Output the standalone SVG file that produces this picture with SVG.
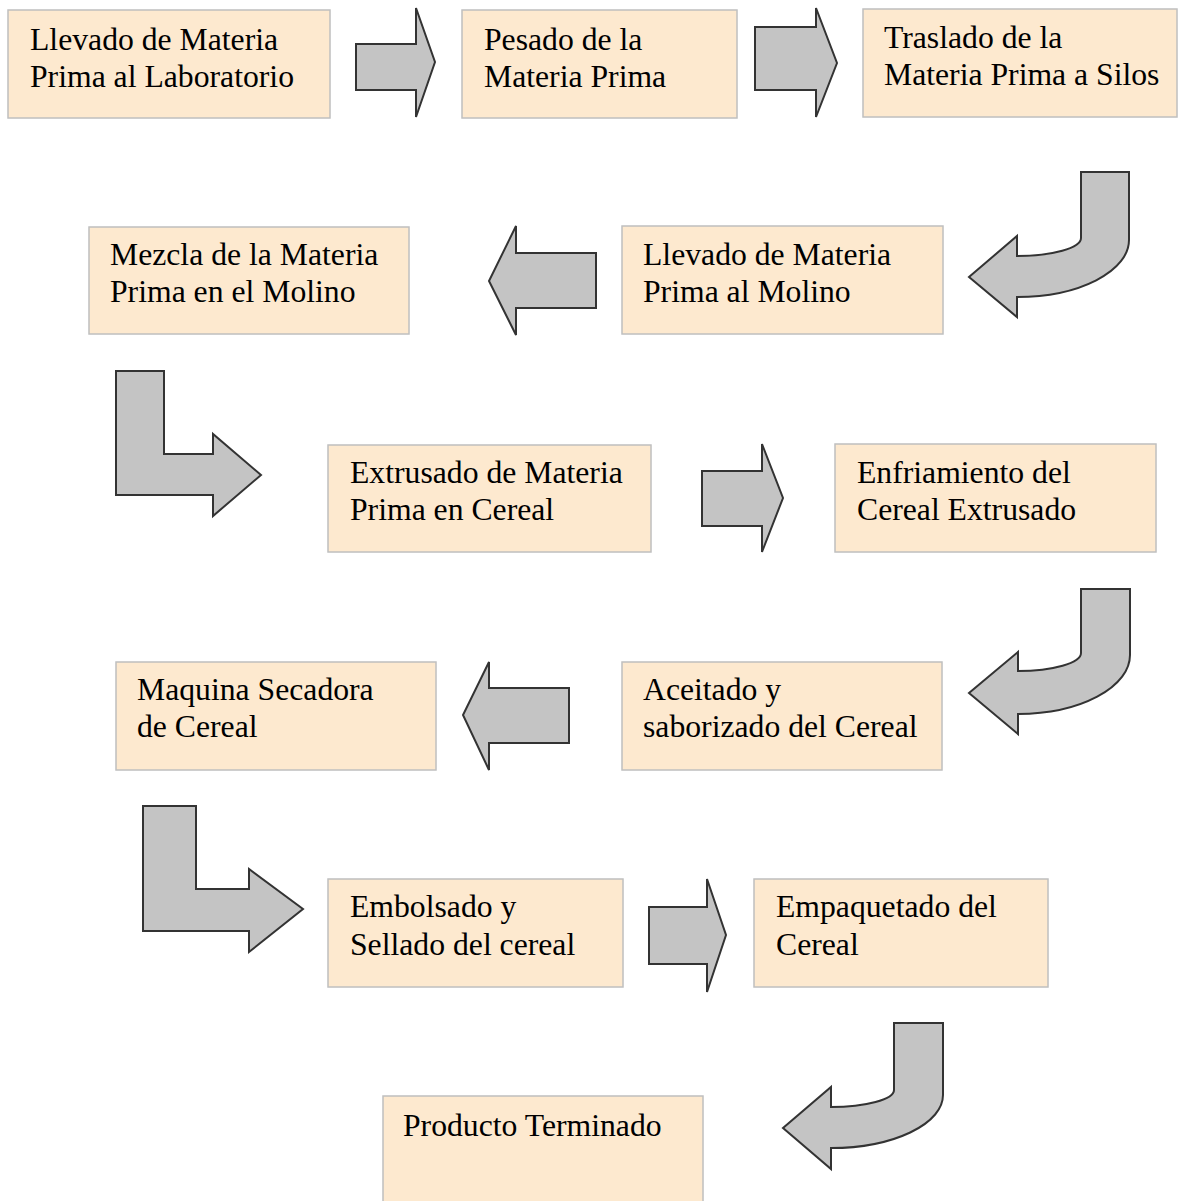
<svg xmlns="http://www.w3.org/2000/svg" width="1183" height="1201" viewBox="0 0 1183 1201">
<style>
.box{fill:#FDE9CF;stroke:#BFBFBF;stroke-width:1.5}
.lbl{font-family:"Liberation Serif","Times New Roman",serif;font-size:31.7px;fill:#000}
.arr{fill:#C4C4C4;stroke:#333;stroke-width:2;stroke-linejoin:miter}
</style>
<rect width="1183" height="1201" fill="#fff"/>
<g id="n1"><rect class="box" x="8" y="10" width="322" height="108"/><text class="lbl" x="30" y="50">Llevado de Materia</text><text class="lbl" x="30" y="87">Prima al Laboratorio</text></g>
<g id="n2"><rect class="box" x="462" y="10" width="275" height="108"/><text class="lbl" x="484" y="50">Pesado de la</text><text class="lbl" x="484" y="87">Materia Prima</text></g>
<g id="n3"><rect class="box" x="863" y="9" width="314" height="108"/><text class="lbl" x="884" y="48">Traslado de la</text><text class="lbl" x="884" y="85">Materia Prima a Silos</text></g>
<g id="n4"><rect class="box" x="89" y="227" width="320" height="107"/><text class="lbl" x="110" y="265">Mezcla de la Materia</text><text class="lbl" x="110" y="302">Prima en el Molino</text></g>
<g id="n5"><rect class="box" x="622" y="226" width="321" height="108"/><text class="lbl" x="643" y="265">Llevado de Materia</text><text class="lbl" x="643" y="302">Prima al Molino</text></g>
<g id="n6"><rect class="box" x="328" y="445" width="323" height="107"/><text class="lbl" x="350" y="483">Extrusado de Materia</text><text class="lbl" x="350" y="520">Prima en Cereal</text></g>
<g id="n7"><rect class="box" x="835" y="444" width="321" height="108"/><text class="lbl" x="857" y="483">Enfriamiento del</text><text class="lbl" x="857" y="520">Cereal Extrusado</text></g>
<g id="n8"><rect class="box" x="116" y="662" width="320" height="108"/><text class="lbl" x="137" y="700">Maquina Secadora</text><text class="lbl" x="137" y="737">de Cereal</text></g>
<g id="n9"><rect class="box" x="622" y="662" width="320" height="108"/><text class="lbl" x="643" y="700">Aceitado y</text><text class="lbl" x="643" y="737">saborizado del Cereal</text></g>
<g id="n10"><rect class="box" x="328" y="879" width="295" height="108"/><text class="lbl" x="350" y="917">Embolsado y</text><text class="lbl" x="350" y="955">Sellado del cereal</text></g>
<g id="n11"><rect class="box" x="754" y="879" width="294" height="108"/><text class="lbl" x="776" y="917">Empaquetado del</text><text class="lbl" x="776" y="955">Cereal</text></g>
<g id="n12"><rect class="box" x="383" y="1096" width="320" height="110"/><text class="lbl" x="403" y="1136">Producto Terminado</text></g>
<g id="connectors">
<path class="arr" d="M356,44 H416 V8 L435,62 L416,117 V90 H356 Z"/>
<path class="arr" d="M755,27 H816 V8 L837,63 L816,117 V90 H755 Z"/>
<path class="arr" d="M1081,172 H1129 V240 A112,57 0 0 1 1017,297 V317 L969,277 L1017,236 V256 A64,18 0 0 0 1081,238 Z"/>
<path class="arr" d="M596,253 V308 H516 V335 L489,281 L516,226 V253 Z"/>
<path class="arr" d="M116,371 H164 V454 H213 V434 L261,475 L213,516 V495 H116 Z"/>
<path class="arr" d="M702,471 H762 V444 L783,498 L762,552 V526 H702 Z"/>
<path class="arr" d="M1081,589 H1130 V655 A112,59 0 0 1 1018,714 V734 L969,693 L1018,652 V671 A63,18 0 0 0 1081,653 Z"/>
<path class="arr" d="M569,688 V743 H489 V770 L463,715 L489,662 V688 Z"/>
<path class="arr" d="M143,806 H196 V889 H249 V869 L303,909 L249,952 V931 H143 Z"/>
<path class="arr" d="M649,907 H707 V879 L726,935 L707,992 V964 H649 Z"/>
<path class="arr" d="M894,1023 H943 V1095 A112,53 0 0 1 831,1148 V1169 L783,1128 L831,1087 V1107 A63,17 0 0 0 894,1090 Z"/>
</g>
</svg>
